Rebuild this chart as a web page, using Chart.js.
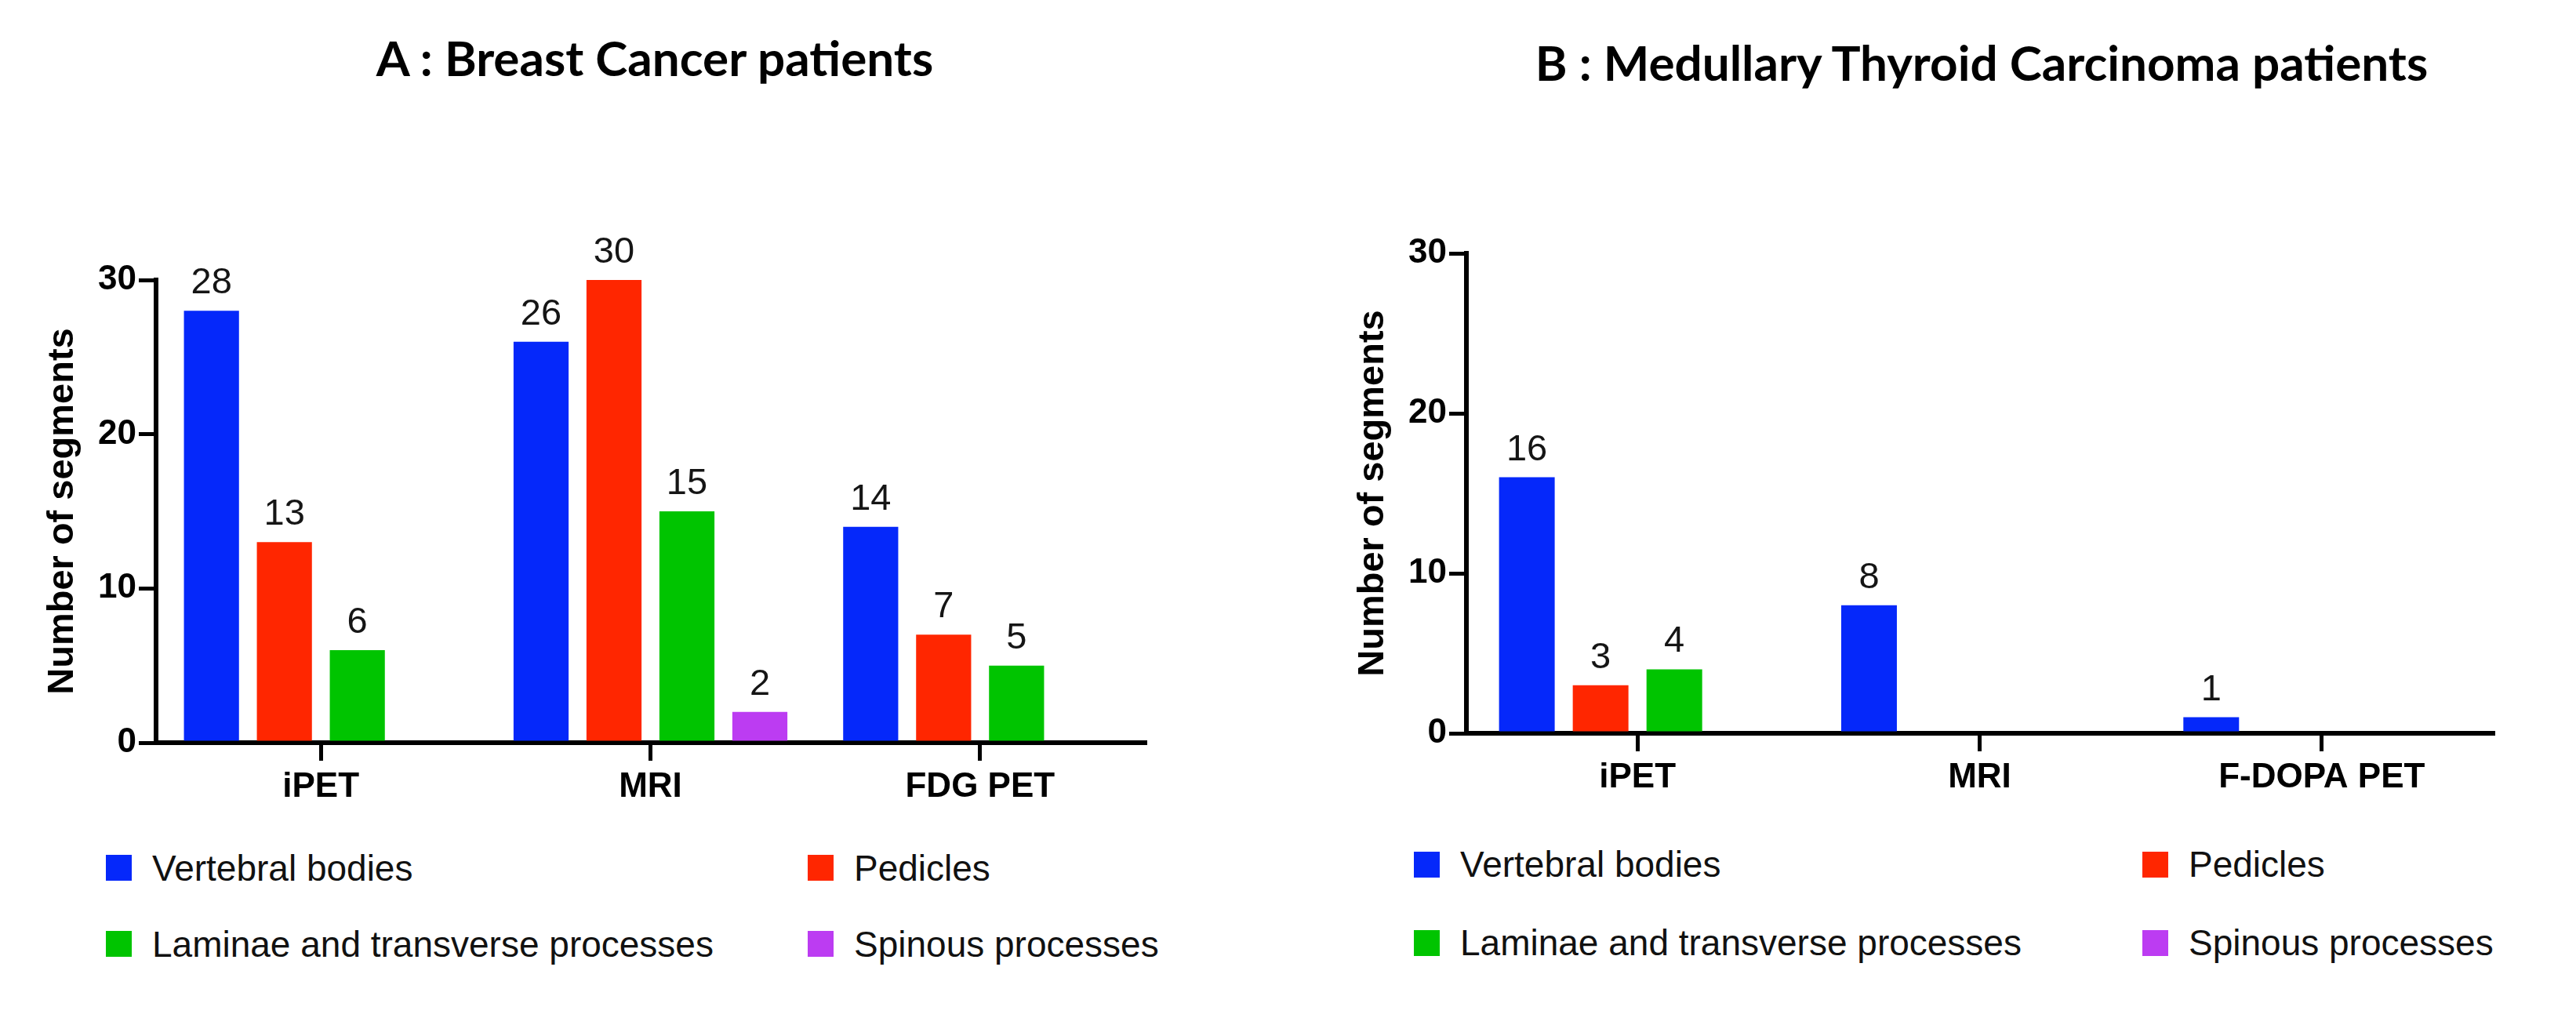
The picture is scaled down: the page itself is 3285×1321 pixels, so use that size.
<!DOCTYPE html>
<html>
<head>
<meta charset="utf-8">
<script src="https://cdn.jsdelivr.net/npm/chart.js@4.4.1/dist/chart.umd.min.js"></script>
<style>
  html, body { margin: 0; padding: 0; background: #fff; overflow: hidden; }
  body { width: 3285px; height: 1321px; position: relative; font-family: "Liberation Sans", Arial, sans-serif; }
  .panel-title {
    position: absolute; white-space: nowrap; transform: translateX(-50%);
    font-family: Lato, "Open Sans", sans-serif; font-weight: 700; font-size: 62px; line-height: 62px; color: #000;
  }
  canvas { position: absolute; }
  .legend {
    position: absolute; display: grid; align-items: center;
    font-size: 46px; color: #111;
  }
  .legend .item { display: flex; align-items: center; white-space: nowrap; }
  .legend .swatch { width: 33px; height: 33px; margin-right: 26px; flex: none; }
</style>
</head>
<body>
<div class="panel-title" id="title-a" style="left:835px; top:42px;"></div>
<div class="panel-title" id="title-b" style="left:2527px; top:48px;"></div>
<canvas id="chart-a" width="1642" height="797" style="left:0px; top:250px;"></canvas>
<canvas id="chart-b" width="1614" height="785" style="left:1671px; top:250px;"></canvas>
<div class="legend" id="legend-a" style="left:135px; top:1058px; grid-template-columns:895px auto; grid-auto-rows:97px;"></div>
<div class="legend" id="legend-b" style="left:1803px; top:1052px; grid-template-columns:929px auto; grid-auto-rows:100px;"></div>
<script>
(function () {
  const SERIES = ["Vertebral bodies", "Pedicles", "Laminae and transverse processes", "Spinous processes"];
  const SERIES_COLORS = ["#0528FA", "#FF2600", "#00C400", "#BC3CF2"];

  const TITLE_A = "A : Breast Cancer patients";
  const CATEGORIES_A = ["iPET", "MRI", "FDG PET"];
  const VERTEBRAL_A = [28, 26, 14];
  const PEDICLES_A = [13, 30, 7];
  const LAMINAE_A = [6, 15, 5];
  const SPINOUS_A = [0, 2, 0];

  const TITLE_B = "B : Medullary Thyroid Carcinoma patients";
  const CATEGORIES_B = ["iPET", "MRI", "F-DOPA PET"];
  const VERTEBRAL_B = [16, 8, 1];
  const PEDICLES_B = [3, 0, 0];
  const LAMINAE_B = [4, 0, 0];
  const SPINOUS_B = [0, 0, 0];

  const Y_TICKS = [0, 10, 20, 30];
  const Y_TITLE = "Number of segments";
  const FONT = '"Liberation Sans", Arial, sans-serif';

  // value printed above every non-zero bar
  const barLabels = {
    id: "barLabels",
    afterDatasetsDraw(chart) {
      const ctx = chart.ctx;
      ctx.save();
      ctx.font = "47px " + FONT;
      ctx.fillStyle = "#151515";
      ctx.textAlign = "center";
      ctx.textBaseline = "alphabetic";
      chart.data.datasets.forEach((ds, i) => {
        chart.getDatasetMeta(i).data.forEach((bar, j) => {
          const v = ds.data[j];
          if (!v) return;
          ctx.fillText(String(v), bar.x, bar.y - 22);
        });
      });
      ctx.restore();
    },
  };

  function makeChart(id, categories, values, opts) {
    const datasets = values.map((data, i) => ({
      label: SERIES[i],
      data,
      backgroundColor: SERIES_COLORS[i],
      borderWidth: 0,
      categoryPercentage: opts.catPct,
      barPercentage: 0.755,
    }));

    return new Chart(document.getElementById(id), {
      type: "bar",
      data: { labels: categories, datasets },
      plugins: [barLabels],
      options: {
        responsive: false,
        animation: false,
        devicePixelRatio: 1,
        layout: { padding: { left: 0, right: opts.padRight, top: opts.padTop, bottom: 0 } },
        plugins: { legend: { display: false }, tooltip: { enabled: false }, title: { display: false } },
        scales: {
          x: {
            z: 1,
            offset: true,
            grid: { drawOnChartArea: false, offset: false, color: "#000", lineWidth: 5, tickLength: 23 },
            border: { display: true, color: "#000", width: 6 },
            ticks: { color: "#000", padding: 7, font: { family: FONT, size: 44, weight: "bold" } },
            afterFit(scale) { scale.height = 100; },
          },
          y: {
            min: 0,
            max: 30,
            afterBuildTicks(scale) { scale.ticks = Y_TICKS.map((v) => ({ value: v })); },
            grid: { drawOnChartArea: false, color: "#000", lineWidth: 5, tickLength: 22 },
            border: { display: true, color: "#000", width: 6 },
            ticks: { color: "#000", padding: 3, font: { family: FONT, size: 44, weight: "bold" } },
            title: {
              display: true,
              text: Y_TITLE,
              color: "#000",
              padding: { top: 52, bottom: 0 },
              font: { family: FONT, size: 47, weight: "bold" },
            },
            afterFit(scale) { scale.width = 199; },
          },
        },
      },
    });
  }

  function buildLegend(id) {
    const wrap = document.getElementById(id);
    SERIES.forEach((name, i) => {
      const item = document.createElement("div");
      item.className = "item";
      const sw = document.createElement("span");
      sw.className = "swatch";
      sw.style.background = SERIES_COLORS[i];
      item.appendChild(sw);
      item.appendChild(document.createTextNode(name));
      wrap.appendChild(item);
    });
  }

  document.getElementById("title-a").textContent = TITLE_A;
  document.getElementById("title-b").textContent = TITLE_B;

  makeChart("chart-a", CATEGORIES_A, [VERTEBRAL_A, PEDICLES_A, LAMINAE_A, SPINOUS_A],
    { catPct: 0.885, padRight: 182, padTop: 107 });
  makeChart("chart-b", CATEGORIES_B, [VERTEBRAL_B, PEDICLES_B, LAMINAE_B, SPINOUS_B],
    { catPct: 0.862, padRight: 106, padTop: 73 });

  buildLegend("legend-a");
  buildLegend("legend-b");
})();
</script>
</body>
</html>
